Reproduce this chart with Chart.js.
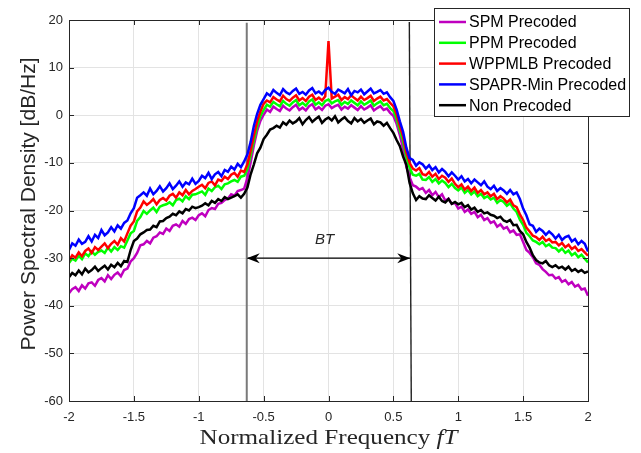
<!DOCTYPE html>
<html>

<head>
    <meta charset="utf-8">
    <title>Densidade Espectral de Potencia</title>
    <script src="https://cdn.jsdelivr.net/npm/chart.js"></script>
    <style>
        html, body { margin: 0; padding: 0; background: #fff; }
        #grafico { display: block; }
    </style>
</head>

<body>
    <canvas id="grafico" width="641" height="453"></canvas>

    <script>
        // Frequencia normalizada fT (eixo x)
        var freq = [
            -2, -1.975, -1.95, -1.925, -1.9, -1.875, -1.85, -1.825, -1.8, -1.775,
            -1.75, -1.725, -1.7, -1.675, -1.65, -1.625, -1.6, -1.575, -1.55, -1.525,
            -1.5, -1.475, -1.45, -1.425, -1.4, -1.375, -1.35, -1.325, -1.3, -1.275,
            -1.25, -1.225, -1.2, -1.175, -1.15, -1.125, -1.1, -1.075, -1.05, -1.025,
            -1, -0.975, -0.95, -0.925, -0.9, -0.875, -0.85, -0.825, -0.8, -0.775,
            -0.75, -0.725, -0.7, -0.675, -0.65, -0.625, -0.6, -0.575, -0.55, -0.525,
            -0.5, -0.475, -0.45, -0.425, -0.4, -0.375, -0.35, -0.325, -0.3, -0.275,
            -0.25, -0.225, -0.2, -0.175, -0.15, -0.125, -0.1, -0.075, -0.05, -0.025,
            0, 0.025, 0.05, 0.075, 0.1, 0.125, 0.15, 0.175, 0.2, 0.225,
            0.25, 0.275, 0.3, 0.325, 0.35, 0.375, 0.4, 0.425, 0.45, 0.475,
            0.5, 0.525, 0.55, 0.575, 0.6, 0.625, 0.65, 0.675, 0.7, 0.725,
            0.75, 0.775, 0.8, 0.825, 0.85, 0.875, 0.9, 0.925, 0.95, 0.975,
            1, 1.025, 1.05, 1.075, 1.1, 1.125, 1.15, 1.175, 1.2, 1.225,
            1.25, 1.275, 1.3, 1.325, 1.35, 1.375, 1.4, 1.425, 1.45, 1.475,
            1.5, 1.525, 1.55, 1.575, 1.6, 1.625, 1.65, 1.675, 1.7, 1.725,
            1.75, 1.775, 1.8, 1.825, 1.85, 1.875, 1.9, 1.925, 1.95, 1.975,
            2
        ];

        // PSD em dB/Hz de cada esquema
        var psdSPM = [
            -37.4, -36.5, -36.1, -36.9, -35.7, -36.4, -35.3, -35.1, -35.8, -34.6,
            -34.2, -34.9, -33.6, -34.4, -33.5, -33.0, -33.8, -32.5, -32.2, -30.7,
            -30.0, -28.9, -27.3, -27.1, -26.4, -26.9, -25.7, -25.4, -24.6, -24.9,
            -23.8, -24.3, -23.2, -22.9, -23.4, -22.2, -22.8, -21.8, -21.5, -22.0,
            -21.0, -20.6, -21.2, -19.9, -19.5, -19.7, -18.6, -18.4, -17.8, -17.5,
            -16.6, -16.9, -15.9, -15.7, -15.4, -13.2, -9.9, -6.3, -3.3, -1.2,
            0.1, 1.2, 0.7, 1.8, 1.3, 0.9, 2.0, 1.4, 1.0, 1.7,
            2.2, 1.1, 1.6, 1.0, 1.9, 2.3, 1.2, 1.7, 1.1, 2.0,
            2.3, 1.5, 1.9, 2.2, 1.2, 1.8, 1.4, 2.1, 1.6, 1.1,
            1.9, 1.2, 1.6, 2.1, 1.0, 1.5, 1.9, 1.1, 1.4, 0.5,
            -0.1, -1.8, -4.2, -7.0, -10.8, -13.0, -14.7, -15.0, -15.6, -15.3,
            -16.3, -15.7, -16.8, -16.1, -17.2, -16.6, -17.9, -17.5, -18.6, -18.4,
            -19.6, -19.2, -20.3, -19.8, -20.7, -20.3, -21.4, -20.9, -22.0, -21.6,
            -22.6, -22.3, -23.4, -22.9, -23.8, -23.5, -24.6, -24.2, -25.1, -25.0,
            -26.6, -28.3, -28.9, -29.8, -31.1, -31.4, -32.3, -32.9, -33.6, -33.5,
            -34.3, -34.0, -35.0, -34.6, -35.5, -35.0, -36.0, -35.6, -36.6, -36.4,
            -37.9
        ];
        var psdPPM = [
            -31.0, -30.1, -30.5, -29.5, -30.2, -29.0, -29.6, -28.6, -29.3, -28.7,
            -28.4, -28.9, -27.8, -28.6, -27.7, -28.3, -27.5, -27.8, -26.3, -24.8,
            -24.3, -22.2, -21.4, -20.1, -20.7, -20.0, -19.4, -20.3, -19.2, -18.9,
            -18.7, -18.3, -18.9, -17.8, -17.5, -18.1, -17.0, -17.6, -16.7, -16.6,
            -16.3, -16.0, -16.7, -15.4, -15.9, -15.1, -14.8, -15.5, -14.5, -14.3,
            -13.9, -13.6, -14.0, -12.9, -12.7, -11.3, -8.4, -5.3, -2.3, -0.2,
            1.1, 2.2, 1.8, 2.8, 2.3, 1.9, 3.0, 2.4, 2.0, 2.7,
            3.2, 2.1, 2.6, 2.0, 2.9, 3.3, 2.2, 2.7, 2.1, 3.0,
            3.3, 2.5, 2.9, 3.2, 2.2, 2.8, 2.4, 3.1, 2.6, 2.1,
            2.9, 2.2, 2.6, 3.1, 2.0, 2.5, 2.9, 2.1, 2.4, 1.5,
            0.9, -0.8, -3.2, -5.5, -8.8, -11.0, -12.5, -12.7, -12.3, -13.5,
            -13.6, -13.0, -14.0, -13.4, -14.3, -13.7, -14.2, -15.1, -14.4, -15.3,
            -15.8, -15.2, -16.3, -15.7, -16.6, -16.0, -17.0, -16.5, -17.4, -17.0,
            -17.7, -17.3, -18.4, -17.8, -18.2, -19.0, -18.5, -19.6, -20.3, -21.9,
            -23.0, -24.7, -25.4, -26.3, -26.6, -27.1, -26.6, -27.5, -27.1, -27.8,
            -27.9, -28.6, -28.0, -28.9, -28.4, -29.4, -28.9, -29.8, -29.3, -30.1,
            -30.9
        ];
        var psdWPPMLB = [
            -30.5, -29.4, -29.9, -28.8, -29.6, -28.5, -28.0, -28.9, -27.7, -28.3,
            -27.6, -26.9, -27.9, -27.0, -26.4, -27.2, -25.8, -26.5, -24.8, -23.2,
            -22.3, -20.2, -19.4, -18.1, -18.8, -18.3, -17.6, -18.7, -17.8, -17.4,
            -17.9, -16.9, -16.5, -17.3, -16.2, -16.8, -15.7, -16.6, -15.9, -15.5,
            -15.0, -14.6, -15.3, -14.2, -13.9, -14.7, -13.5, -13.8, -12.9, -13.4,
            -12.5, -12.1, -12.9, -11.6, -11.9, -10.3, -7.4, -4.2, -1.3, 0.8,
            2.4, 3.1, 2.7, 3.8, 3.3, 2.9, 4.1, 3.4, 3.0, 3.7,
            4.2, 3.1, 3.6, 3.0, 3.9, 4.3, 3.2, 3.7, 3.1, 4.0,
            15.6, 3.5, 3.9, 4.3, 3.2, 3.8, 3.4, 4.2, 3.6, 3.1,
            3.9, 3.2, 3.6, 4.1, 3.0, 3.5, 3.9, 3.1, 3.4, 2.6,
            1.9, 0.2, -2.3, -4.5, -7.8, -10.0, -11.2, -11.6, -11.1, -12.4,
            -12.6, -11.9, -12.9, -12.3, -13.4, -12.7, -13.1, -14.0, -13.3, -14.4,
            -15.1, -14.5, -15.6, -15.0, -15.9, -15.2, -16.3, -15.7, -16.6, -16.2,
            -17.0, -16.5, -17.6, -17.0, -17.5, -18.3, -17.7, -18.9, -19.3, -20.8,
            -22.0, -23.6, -24.4, -25.3, -25.6, -26.2, -25.5, -26.4, -26.0, -26.7,
            -26.6, -27.3, -26.8, -27.7, -27.2, -28.1, -27.6, -28.5, -28.1, -28.8,
            -29.5
        ];
        var psdSPAPR = [
            -28.3, -26.9, -27.4, -26.1, -27.0, -26.6, -25.4, -26.5, -25.1, -25.8,
            -24.1, -25.2, -24.6, -23.5, -24.4, -23.1, -23.8, -22.6, -22.1, -20.6,
            -19.5, -17.3, -16.8, -16.2, -16.9, -15.4, -16.6, -15.9, -14.9, -16.0,
            -15.3, -14.3, -15.5, -14.8, -13.9, -15.0, -14.1, -14.5, -13.3, -14.4,
            -13.8, -12.7, -13.2, -12.1, -13.4, -12.4, -11.9, -12.8, -11.5, -11.9,
            -10.8, -11.4, -10.2, -10.9, -9.7, -8.2, -5.6, -2.2, 0.3, 2.2,
            3.4, 4.6, 4.1, 5.3, 4.7, 4.2, 5.5, 4.8, 4.4, 5.1,
            5.6, 4.5, 4.9, 4.3, 5.2, 5.7, 4.6, 5.0, 4.4, 5.3,
            5.8, 4.9, 4.5, 5.4, 5.0, 4.6, 5.5, 4.2, 5.1, 4.8,
            5.4, 4.4, 5.0, 5.6, 4.6, 4.9, 5.3, 4.5, 4.8, 3.8,
            3.0, 1.2, -1.3, -3.5, -6.8, -9.0, -9.4, -10.6, -9.9, -10.3,
            -11.2, -10.5, -11.5, -10.9, -12.0, -11.3, -11.9, -12.8, -12.0, -12.7,
            -13.5, -12.8, -13.9, -13.4, -14.3, -13.5, -14.1, -14.7, -13.9, -15.0,
            -15.5, -14.8, -15.9, -15.3, -15.8, -16.5, -15.7, -16.6, -16.2, -17.6,
            -19.6, -21.0, -22.9, -23.2, -24.5, -23.8, -24.3, -25.1, -24.4, -25.0,
            -25.9, -25.1, -26.2, -25.6, -25.3, -26.5, -26.0, -27.1, -26.4, -27.0,
            -28.6
        ];
        var psdNon = [
            -34.0, -33.1, -33.6, -32.6, -33.4, -32.2, -33.0, -32.5, -31.8, -32.7,
            -32.1, -31.6, -32.4, -31.4, -31.9, -31.0, -31.7, -30.6, -30.8, -28.3,
            -26.4, -25.9, -25.0, -24.6, -24.1, -24.0, -23.2, -23.5, -22.3, -22.2,
            -21.6, -21.3, -20.7, -21.0, -20.2, -20.6, -19.7, -20.0, -19.2, -19.5,
            -19.3, -19.0, -18.5, -18.9, -18.0, -18.4, -17.6, -18.0, -17.2, -17.6,
            -17.3, -17.0, -16.6, -17.3, -16.5, -15.2, -12.4, -10.3, -8.0, -6.8,
            -5.0, -4.1, -3.0, -2.7, -2.2, -2.6, -1.5, -2.0, -1.1, -1.7,
            -1.3, -0.6, -1.9, -1.0, -0.4, -1.4, -0.8, -0.3, -1.6, -0.9,
            -0.5, -1.1, -0.2, -1.5, -0.9, -0.4, -1.2, -1.7, -0.6, -1.3,
            -0.8, -1.6, -1.1, -0.7, -1.9, -1.3, -1.5, -2.2, -1.6, -2.7,
            -3.7, -5.2, -6.5, -8.7, -10.4, -14.2, -16.4, -17.8, -17.0, -17.5,
            -17.6, -16.8, -17.4, -17.9, -17.1, -18.0, -18.3, -17.6, -18.6, -18.2,
            -18.7, -18.4, -19.3, -18.9, -19.8, -19.4, -20.3, -19.9, -20.6, -20.4,
            -20.9, -21.1, -21.6, -21.3, -22.1, -22.4, -22.0, -23.1, -23.0, -24.3,
            -25.0, -26.6, -27.8, -29.4, -30.4, -30.9, -31.1, -30.6, -31.5, -31.9,
            -31.5, -32.1, -31.8, -32.4, -31.8, -32.7, -32.3, -32.9, -32.5, -33.1,
            -32.8
        ];

        var nomes = ["SPM Precoded", "PPM Precoded", "WPPMLB Precoded", "SPAPR-Min Precoded", "Non Precoded"];
        var cores = ["#bf00bf", "#00ff00", "#ff0000", "#0000ff", "#000000"];
        var ordem = [5, 4, 3, 2, 1];

        // Marcas da largura de banda BT
        var bordaEsq = [[-0.63, 19.4], [-0.63, -60]];
        var bordaDir = [[0.623, 19.6], [0.638, -60]];
        var nivelSeta = -30;
        var limiteSeta = [-0.63, 0.63];
        var posTextoBT = [-0.03, -26.2];

        var eixoX = [-2, 2, 0.5];
        var eixoY = [-60, 20, 10];

        function pontos(valores) {
            return valores.map(function (v, i) { return { x: freq[i], y: v }; });
        }
        function pares(lista) {
            return lista.map(function (p) { return { x: p[0], y: p[1] }; });
        }

        var series = [psdSPM, psdPPM, psdWPPMLB, psdSPAPR, psdNon];
        var datasets = series.map(function (s, k) {
            return {
                label: nomes[k],
                data: pontos(s),
                borderColor: cores[k],
                backgroundColor: cores[k],
                borderWidth: 2.5,
                pointRadius: 0,
                tension: 0,
                order: ordem[k]
            };
        });
        datasets.push({ label: "borda1", data: pares(bordaEsq), borderColor: "#7a7a7a", borderWidth: 2, pointRadius: 0, order: 8 });
        datasets.push({ label: "borda2", data: pares(bordaDir), borderColor: "#202020", borderWidth: 1.4, pointRadius: 0, order: 8 });
        datasets.push({ label: "seta", data: [{ x: limiteSeta[0], y: nivelSeta }, { x: limiteSeta[1], y: nivelSeta }], borderColor: "#000", borderWidth: 1.2, pointRadius: 0, order: 8 });

        var corTexto = "#262626";
        var fonteSerif = "'Liberation Serif', 'Times New Roman', serif";

        // Caixa, ticks internos, titulos, seta e legenda no estilo MATLAB
        var estiloMatlab = {
            id: "estiloMatlab",
            afterDraw: function (chart) {
                var ctx = chart.ctx;
                var a = chart.chartArea;
                var sx = chart.scales.x, sy = chart.scales.y;
                ctx.save();

                // caixa
                ctx.strokeStyle = corTexto;
                ctx.lineWidth = 1;
                ctx.strokeRect(a.left + 0.5, a.top + 0.5, a.right - a.left, a.bottom - a.top);

                // ticks para dentro
                ctx.beginPath();
                sx.ticks.forEach(function (t) {
                    var px = Math.round(sx.getPixelForValue(t.value)) + 0.5;
                    ctx.moveTo(px, a.bottom); ctx.lineTo(px, a.bottom - 5);
                    ctx.moveTo(px, a.top); ctx.lineTo(px, a.top + 5);
                });
                sy.ticks.forEach(function (t) {
                    var py = Math.round(sy.getPixelForValue(t.value)) + 0.5;
                    ctx.moveTo(a.left, py); ctx.lineTo(a.left + 5, py);
                    ctx.moveTo(a.right, py); ctx.lineTo(a.right - 5, py);
                });
                ctx.stroke();

                // pontas da seta
                var yS = sy.getPixelForValue(nivelSeta);
                var x1 = sx.getPixelForValue(limiteSeta[0]);
                var x2 = sx.getPixelForValue(limiteSeta[1]);
                ctx.fillStyle = "#000";
                [[x1, 1], [x2, -1]].forEach(function (p) {
                    ctx.beginPath();
                    ctx.moveTo(p[0], yS);
                    ctx.lineTo(p[0] + p[1] * 13, yS - 5);
                    ctx.lineTo(p[0] + p[1] * 9, yS);
                    ctx.lineTo(p[0] + p[1] * 13, yS + 5);
                    ctx.closePath();
                    ctx.fill();
                });

                // texto BT
                ctx.font = "italic 15px 'Liberation Sans', Arial, sans-serif";
                ctx.textAlign = "center";
                ctx.textBaseline = "middle";
                ctx.fillStyle = corTexto;
                ctx.fillText("BT", sx.getPixelForValue(posTextoBT[0]), sy.getPixelForValue(posTextoBT[1]));

                // titulo do eixo x (largura ajustada ao da fonte LaTeX)
                var t1 = "Normalized Frequency ";
                var t2 = "fT";
                ctx.font = "22px " + fonteSerif;
                var w1 = ctx.measureText(t1).width;
                ctx.font = "italic 22px " + fonteSerif;
                var w2 = ctx.measureText(t2).width;
                var escala = 258 / (w1 + w2);
                ctx.save();
                ctx.translate((a.left + a.right) / 2 - 129, 444);
                ctx.scale(escala, 1);
                ctx.textAlign = "left";
                ctx.textBaseline = "alphabetic";
                ctx.font = "22px " + fonteSerif;
                ctx.fillText(t1, 0, 0);
                ctx.font = "italic 22px " + fonteSerif;
                ctx.fillText(t2, w1, 0);
                ctx.restore();

                // titulo do eixo y
                ctx.save();
                ctx.translate(34.5, 204);
                ctx.rotate(-Math.PI / 2);
                ctx.textAlign = "center";
                ctx.textBaseline = "alphabetic";
                ctx.font = "21px 'Liberation Sans', Arial, sans-serif";
                ctx.fillText("Power Spectral Density [dB/Hz]", 0, 0);
                ctx.restore();

                // legenda
                ctx.fillStyle = "#fff";
                ctx.fillRect(434, 8, 195, 108);
                ctx.strokeStyle = corTexto;
                ctx.lineWidth = 1;
                ctx.strokeRect(434.5, 8.5, 195, 108);
                ctx.font = "16px 'Liberation Sans', Arial, sans-serif";
                ctx.textAlign = "left";
                ctx.textBaseline = "middle";
                nomes.forEach(function (n, k) {
                    var yy = 22 + k * 20.8;
                    ctx.strokeStyle = cores[k];
                    ctx.lineWidth = 2.5;
                    ctx.beginPath();
                    ctx.moveTo(439, yy); ctx.lineTo(466, yy);
                    ctx.stroke();
                    ctx.fillStyle = "#000";
                    ctx.fillText(n, 469, yy + 1);
                });
                ctx.restore();
            }
        };

        var ctx = document.getElementById("grafico").getContext("2d");
        var grafico = new Chart(ctx, {
            type: "line",
            data: { datasets: datasets },
            options: {
                responsive: false,
                animation: false,
                devicePixelRatio: 1,
                layout: { padding: { left: 0, top: 20, right: 53, bottom: 0 } },
                plugins: {
                    legend: { display: false },
                    tooltip: { enabled: false }
                },
                scales: {
                    x: {
                        type: "linear",
                        min: eixoX[0],
                        max: eixoX[1],
                        afterFit: function (s) { s.height = 52; },
                        ticks: {
                            stepSize: eixoX[2],
                            autoSkip: false,
                            maxRotation: 0,
                            padding: 9,
                            color: corTexto,
                            font: { family: "'Liberation Sans', Arial, sans-serif", size: 13 },
                            callback: function (v) { return String(v); }
                        },
                        grid: { color: "#e3e3e3", drawTicks: false },
                        border: { display: false }
                    },
                    y: {
                        min: eixoY[0],
                        max: eixoY[1],
                        afterFit: function (s) { s.width = 69; },
                        ticks: {
                            stepSize: eixoY[2],
                            padding: 6,
                            color: corTexto,
                            font: { family: "'Liberation Sans', Arial, sans-serif", size: 13 },
                            callback: function (v) { return String(v); }
                        },
                        grid: { color: "#e3e3e3", drawTicks: false },
                        border: { display: false }
                    }
                }
            },
            plugins: [estiloMatlab]
        });
    </script>
</body>

</html>
